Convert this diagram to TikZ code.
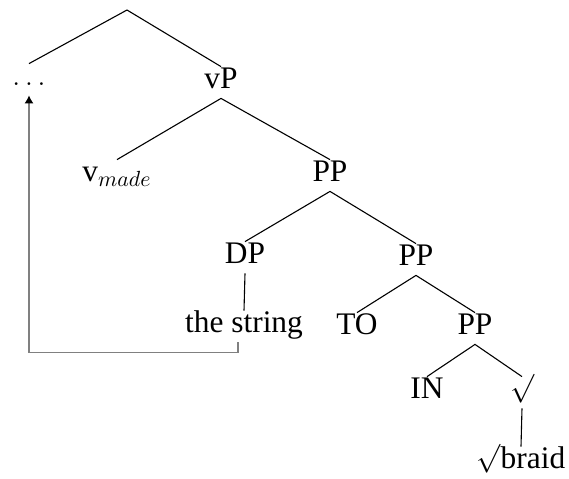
\documentclass[tikz,border=0pt]{standalone}
\usepackage{fontspec}
\setmainfont{Liberation Serif}
\usetikzlibrary{arrows.meta}
\newcommand{\rad}{\raisebox{0.08em}{$\surd$}}
\begin{document}
\begin{tikzpicture}[
  x=0.5pt, y=-0.5pt,
  font=\fontsize{15.7}{18}\selectfont,
  cat/.style={inner xsep=0pt, inner ysep=3pt, text height=0.75em, text depth=0.2em, anchor=base},
  branch/.style={line width=0.55pt},
  move/.style={gray, line width=0.6pt, -{Latex[black, length=4pt, width=4.5pt]}}
]
  \useasboundingbox (0,0) rectangle (569,478);

  % Raíz y primer nivel
  \coordinate (root) at (127, 10);
  \node[cat] (dots) at (29, 85) {$\dots$};
  \node[cat] (vP) at (221, 88) {vP};

  % Nivel de v y PP
  \node[cat] (vmade) at (117, 181) {v$_{made}$};
  \node[cat] (PPa) at (330, 181) {PP};

  % DP y PP interno
  \node[cat] (DP) at (245, 263) {DP};
  \node[cat] (PPb) at (416, 265) {PP};

  % Hojas y nivel inferior
  \node[cat] (str) at (244, 332) {the string};
  \node[cat] (TO) at (357, 334) {TO};
  \node[cat] (PPc) at (475, 334) {PP};
  \node[cat] (IN) at (427, 398) {IN};
  \node[cat] (rt) at (522, 398) {\rad};
  \node[cat] (braid) at (521, 468) {\rad braid};

  % Ramas del árbol
  \draw[branch] (dots.north) -- (root) -- (vP.north);
  \draw[branch] (vmade.north) -- (vP.south) -- (PPa.north);
  \draw[branch] (DP.north) -- (PPa.south) -- (PPb.north);
  \draw[branch] (DP.south) -- (str.north);
  \draw[branch] (TO.north) -- (PPb.south) -- (PPc.north);
  \draw[branch] (IN.north) -- (PPc.south) -- (rt.north);
  \draw[branch] (rt.south) -- (braid.north);

  % Movimiento de the string
  \draw[move] ([xshift=-3pt]str.south) -- ++(0,10) -| (dots.south);

\end{tikzpicture}
\end{document}
